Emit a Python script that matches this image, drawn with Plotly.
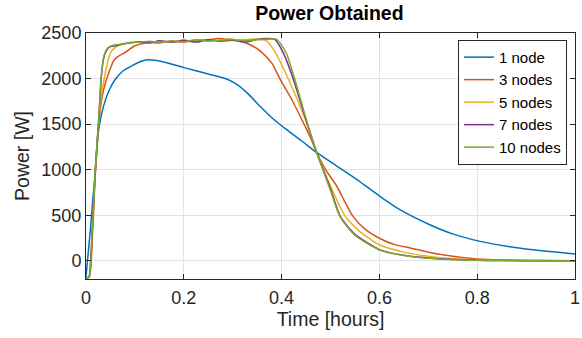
import plotly.graph_objects as go

# ---------------- data ----------------
series_names = ["1 node", "3 nodes", "5 nodes", "7 nodes", "10 nodes"]
series_colors = ["#0072BD", "#D95319", "#EDB120", "#7E2F8E", "#77AC30"]

t_1node = [0, 0.004, 0.009, 0.014, 0.019, 0.026, 0.036, 0.048, 0.06, 0.075, 0.094, 0.11, 0.128,
           0.155, 0.2, 0.25, 0.29, 0.31, 0.33, 0.356, 0.38, 0.41, 0.44, 0.472, 0.513, 0.554,
           0.601, 0.642, 0.703, 0.75, 0.806, 0.86, 0.914, 0.96, 1.0]
p_1node = [-180, 60, 340, 680, 965, 1443, 1700, 1880, 1993, 2080, 2140, 2185, 2206,
           2188, 2120, 2050, 1990, 1930, 1840, 1696, 1570, 1440, 1320, 1186, 1039, 892,
           708, 561, 396, 295, 213, 160, 121, 95, 75]

t_3nodes = [0, 0.007, 0.013, 0.019, 0.026, 0.033, 0.04, 0.049, 0.057, 0.065, 0.08, 0.1, 0.128,
            0.15, 0.175, 0.2, 0.225, 0.25, 0.27, 0.29, 0.315, 0.34, 0.36, 0.38, 0.397, 0.424,
            0.441, 0.458, 0.472, 0.49, 0.513, 0.53, 0.546, 0.57, 0.601, 0.63, 0.663, 0.703,
            0.75, 0.8, 0.9, 1.0]
p_3nodes = [-190, -175, 250, 950, 1500, 1800, 1960, 2100, 2200, 2240, 2287, 2360, 2397,
            2390, 2410, 2400, 2420, 2425, 2440, 2430, 2410, 2360, 2285, 2170, 1993, 1737,
            1553, 1364, 1186, 1000, 818, 640, 488, 350, 245, 180, 140, 91,
            50, 20, 5, 0]

t_5nodes = [0, 0.006, 0.012, 0.019, 0.026, 0.032, 0.038, 0.045, 0.052, 0.065, 0.08, 0.1, 0.125,
            0.15, 0.175, 0.2, 0.225, 0.25, 0.27, 0.29, 0.31, 0.33, 0.35, 0.37, 0.387, 0.414,
            0.448, 0.472, 0.5, 0.53, 0.56, 0.6, 0.65, 0.703, 0.75, 0.8, 0.9, 1.0]
p_5nodes = [-190, -175, 230, 980, 1520, 1850, 2020, 2200, 2300, 2360, 2385, 2400, 2395,
            2410, 2400, 2420, 2410, 2430, 2415, 2440, 2420, 2430, 2435, 2410, 2287, 1993,
            1560, 1186, 820, 488, 320, 176, 95, 47, 22, 10, 2, 0]

t_7nodes = [0, 0.006, 0.012, 0.019, 0.026, 0.031, 0.036, 0.042, 0.05, 0.06, 0.075, 0.09, 0.11,
            0.13, 0.15, 0.175, 0.2, 0.225, 0.25, 0.275, 0.3, 0.325, 0.35, 0.37, 0.386, 0.403,
            0.424, 0.449, 0.472, 0.5, 0.52, 0.55, 0.6, 0.65, 0.7, 0.8, 0.9, 1.0]
p_7nodes = [-190, -178, 250, 1000, 1550, 2000, 2220, 2310, 2350, 2360, 2380, 2390, 2405,
            2390, 2415, 2400, 2420, 2400, 2425, 2410, 2420, 2400, 2430, 2440, 2430, 2287,
            1993, 1560, 1186, 790, 488, 290, 123, 60, 30, 6, 1, 0]

t_10nodes = [0, 0.006, 0.012, 0.019, 0.026, 0.031, 0.036, 0.042, 0.05, 0.06, 0.075, 0.09, 0.11,
             0.13, 0.15, 0.175, 0.2, 0.225, 0.25, 0.275, 0.3, 0.325, 0.35, 0.375, 0.39, 0.409,
             0.427, 0.45, 0.472, 0.5, 0.519, 0.55, 0.6, 0.65, 0.7, 0.8, 0.9, 1.0]
p_10nodes = [-190, -180, 260, 1010, 1560, 2010, 2230, 2320, 2355, 2370, 2375, 2395, 2400,
             2410, 2400, 2415, 2405, 2425, 2410, 2420, 2430, 2415, 2425, 2435, 2430, 2287,
             1993, 1560, 1186, 770, 488, 280, 118, 58, 28, 5, 1, 0]

x_tick_vals = [0, 0.2, 0.4, 0.6, 0.8, 1.0]
x_tick_text = ["0", "0.2", "0.4", "0.6", "0.8", "1"]
y_tick_vals = [0, 500, 1000, 1500, 2000, 2500]
y_tick_text = ["0", "500", "1000", "1500", "2000", "2500"]

title_text = "Power Obtained"
x_label = "Time [hours]"
y_label = "Power [W]"

# ---------------- figure ----------------
all_t = [t_1node, t_3nodes, t_5nodes, t_7nodes, t_10nodes]
all_p = [p_1node, p_3nodes, p_5nodes, p_7nodes, p_10nodes]

fig = go.Figure()
for name, color, tt, pp in zip(series_names, series_colors, all_t, all_p):
    fig.add_trace(go.Scatter(x=tt, y=pp, mode="lines", name=name,
                             line=dict(color=color, width=1.5, shape="spline", smoothing=0.6)))

axis_common = dict(showgrid=True, gridcolor="#e3e3e3", gridwidth=1, zeroline=False,
                   showline=True, linecolor="#262626", linewidth=1, mirror="ticks",
                   ticks="inside", ticklen=5, tickcolor="#262626", automargin=False,
                   tickfont=dict(size=18, color="#262626"))

fig.update_layout(
    width=582, height=338,
    margin=dict(l=86, r=7, t=33, b=59, autoexpand=False),
    paper_bgcolor="white", plot_bgcolor="white",
    font=dict(family="Liberation Sans, Arial, sans-serif", color="#262626"),
    title=dict(text="<b>" + title_text + "</b>", x=0.566, xanchor="center",
               y=0.962, yanchor="middle", yref="container", automargin=False,
               font=dict(size=19.5, color="#000000")),
    xaxis=dict(range=[0, 1], tickvals=x_tick_vals, ticktext=x_tick_text, ticklabelstandoff=2,
               title=dict(text=x_label, font=dict(size=19.5), standoff=3), **axis_common),
    yaxis=dict(range=[-200, 2500], tickvals=y_tick_vals, ticktext=y_tick_text,
               title=dict(text=y_label, font=dict(size=19.5), standoff=6), **axis_common),
    legend=dict(x=0.9836, xanchor="right", y=0.972, yanchor="top",
                bordercolor="#262626", borderwidth=1, bgcolor="white",
                font=dict(size=15, color="#000000"), tracegroupgap=0, itemwidth=30),
    showlegend=True,
)

fig.write_html("out.html", config={"displayModeBar": False},
               post_script="document.body.style.margin='0';document.body.style.overflow='hidden';")
